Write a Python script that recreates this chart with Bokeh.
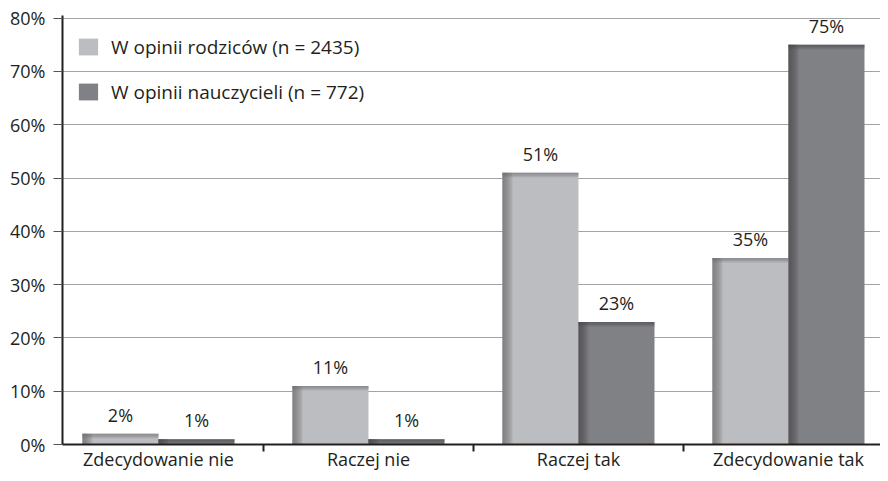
import numpy as np
from bokeh.plotting import figure
from bokeh.models import (Range1d, FixedTicker, Legend, LegendItem,
                          ColumnDataSource, LabelSet)
from bokeh.core.properties import value
from bokeh.embed import file_html
from bokeh.resources import INLINE

# ---------------- data ----------------
categories = ["Zdecydowanie nie", "Raczej nie", "Raczej tak", "Zdecydowanie tak"]
series_labels = ["W opinii rodziców (n = 2435)", "W opinii nauczycieli (n = 772)"]
parents = [2, 11, 51, 35]
teachers = [1, 1, 23, 75]
y_ticks = [0, 10, 20, 30, 40, 50, 60, 70, 80]
y_tick_labels = ["0%", "10%", "20%", "30%", "40%", "50%", "60%", "70%", "80%"]

# ---------------- style ----------------
FONT = "Open Sans"
TXT = "#231f20"
LIGHT, LIGHT_EDGE = "#bcbdc0", "#6a6b6e"
DARK, DARK_EDGE = "#808185", "#45464a"

W, H = 880, 473
BL, BR, BT, BB = 62, 0, 15, 28
frame_w = W - BL - BR
frame_h = H - BT - BB
x_start = 0.043
x_range = Range1d(x_start, x_start + frame_w / 210.0)
y_range = Range1d(0, 80.5)
px_x = (x_range.end - x_range.start) / frame_w
px_y = (y_range.end - y_range.start) / frame_h

p = figure(width=W, height=H, x_range=x_range, y_range=y_range,
           output_backend="svg", toolbar_location=None,
           min_border_left=BL, min_border_right=BR,
           min_border_top=BT, min_border_bottom=BB)
p.outline_line_color = None
p.background_fill_color = "white"
p.border_fill_color = "white"

cx = np.arange(len(categories)) + 0.5
bw = 0.362


def draw_series(xs, vals, fill, edge):
    vals = np.asarray(vals, dtype=float)
    src = ColumnDataSource(dict(x=xs, top=vals, label=[f"{int(v)}%" for v in vals]))
    r = p.vbar(x="x", top="top", bottom=0, width=bw, source=src,
               fill_color=fill, line_color=None)
    left = xs - bw / 2
    # left-edge shading
    for k in range(1, 6):
        w = k * 2 * px_x
        p.vbar(x=left + w / 2, top=vals, bottom=0, width=w,
               fill_color=edge, fill_alpha=0.2, line_color=None)
    # top-edge shading
    for k in range(1, 4):
        h = k * 1.5 * px_y
        p.vbar(x=xs, top=vals, bottom=np.maximum(vals - h, 0), width=bw,
               fill_color=edge, fill_alpha=0.22, line_color=None)
    labels = LabelSet(x="x", y="top", text="label", source=src,
                      text_align="center", text_baseline="alphabetic",
                      y_offset=12, text_font=value(FONT),
                      text_font_size=value("18px"), text_color=value(TXT))
    p.add_layout(labels)
    return r


r1 = draw_series(cx - bw / 2, parents, LIGHT, LIGHT_EDGE)
r2 = draw_series(cx + bw / 2, teachers, DARK, DARK_EDGE)

# ---------------- axes ----------------
ya = p.yaxis[0]
ya.ticker = FixedTicker(ticks=y_ticks)
ya.major_label_overrides = {t: l for t, l in zip(y_ticks, y_tick_labels)}
ya.axis_line_color = TXT
ya.axis_line_width = 2
ya.major_tick_out = 9
ya.major_tick_in = 0
ya.major_tick_line_color = "#555555"
ya.minor_tick_line_color = None
ya.major_label_standoff = 8
ya.major_label_text_font = FONT
ya.major_label_text_font_size = "18px"
ya.major_label_text_color = TXT

xa = p.xaxis[0]
xa.ticker = FixedTicker(ticks=list(cx), minor_ticks=list(np.arange(1, len(categories))))
xa.major_label_overrides = {float(c): lab for c, lab in zip(cx, categories)}
xa.axis_line_color = TXT
xa.axis_line_width = 2
xa.major_tick_out = 0
xa.major_tick_in = 0
xa.minor_tick_out = 7
xa.minor_tick_in = 0
xa.minor_tick_line_color = TXT
xa.minor_tick_line_width = 2
xa.major_label_standoff = -5
xa.major_label_text_font = FONT
xa.major_label_text_font_size = "18px"
xa.major_label_text_color = TXT

p.xgrid.visible = False
p.ygrid.ticker = FixedTicker(ticks=y_ticks)
p.ygrid.grid_line_color = "#a3a3a3"
p.ygrid.grid_line_width = 1

# ---------------- legend ----------------
legend = Legend(items=[LegendItem(label=series_labels[0], renderers=[r1]),
                       LegendItem(label=series_labels[1], renderers=[r2])],
                location="top_left", margin=14, padding=0, spacing=10,
                glyph_width=24, glyph_height=21, label_height=35,
                label_standoff=11, label_text_font=FONT,
                label_text_font_size="19px", label_text_color=TXT,
                border_line_color=None, background_fill_alpha=0)
p.add_layout(legend)

open("out.html", "w").write(file_html(p, INLINE))
